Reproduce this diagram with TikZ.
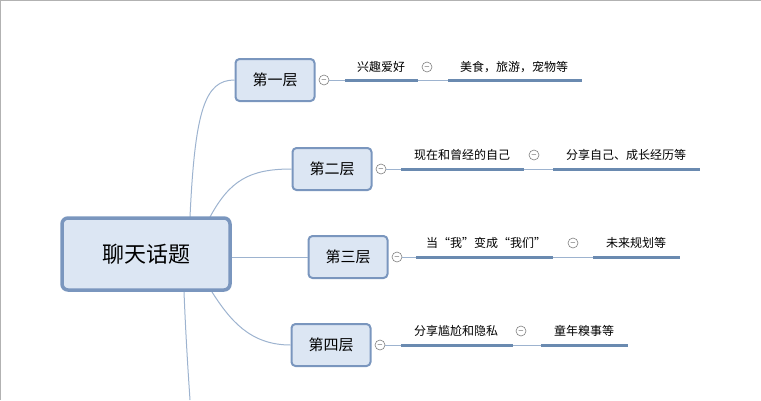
\documentclass[tikz,border=0pt]{standalone}
\usepackage{fontspec}
\newfontfamily\cjk{Noto Sans CJK SC}
\definecolor{bd}{HTML}{7A96BE}
\definecolor{fl}{HTML}{DCE6F3}
\definecolor{ul}{HTML}{6A8AB0}
\definecolor{cv}{HTML}{9DB3CF}
\tikzset{
 mainbox/.style={draw=bd,fill=fl,line width=3.5pt,rounded corners=6pt,minimum width=168pt,minimum height=72pt,font=\cjk\fontsize{22}{22}\selectfont},
 lvl/.style={draw=bd,fill=fl,line width=2pt,rounded corners=4pt,minimum width=79pt,minimum height=42pt,font=\cjk\fontsize{15}{15}\selectfont},
 lab/.style={font=\cjk\fontsize{12}{12}\selectfont,inner sep=1pt},
 tog/.style={circle,draw=gray,line width=0.6pt,minimum size=10pt,inner sep=0pt,font=\fontsize{7}{7}\selectfont,fill=white},
 uline/.style={ul,line width=3pt},
 thin/.style={cv,line width=0.8pt},
 curve/.style={cv,line width=1pt}
}
\begin{document}
\begin{tikzpicture}[x=1pt,y=-1pt]
\useasboundingbox (0,0) rectangle (761,400);
\draw[gray!60] (0.5,400) -- (0.5,0.5) -- (761,0.5);
% curves
\coordinate (m1) at (190,217);
\coordinate (m2) at (210,217);
\coordinate (m3) at (232,257);
\coordinate (m4) at (212,292);
\coordinate (m5) at (184,292);
\coordinate (e5) at (190,400);
\node[lvl] (l1) at (275,80) {第一层};
\node[lvl] (l2) at (332,169) {第二层};
\node[lvl] (l3) at (348,257) {第三层};
\node[lvl] (l4) at (331,345) {第四层};
\draw[curve] (m1) .. controls (195,110) and (205,80) .. (l1.west);
\draw[curve] (m2) .. controls (230,180) and (250,169) .. (l2.west);
\draw[curve] (m3) -- (l3.west);
\draw[curve] (m4) .. controls (230,320) and (250,345) .. (l4.west);
\draw[curve] (m5) .. controls (186,340) and (188,370) .. (e5);
\node[mainbox] (main) at (146,254) {聊天话题};
% level 1
\node[tog] (t1) at (324,80) {$-$};
\coordinate (a1) at (345,80); \coordinate (b1) at (418,80);
\coordinate (c1) at (448,80); \coordinate (d1) at (582,80);
\draw[thin] (t1) -- (a1); \draw[uline] (a1) -- (b1); \draw[thin] (b1) -- (c1); \draw[uline] (c1) -- (d1);
\node[lab] (x1) at (381,67) {兴趣爱好};
\node[tog] (s1) at (427,67) {$-$};
\node[lab] (y1) at (514,67) {美食，旅游，宠物等};
% level 2
\node[tog] (t2) at (381,169) {$-$};
\coordinate (a2) at (401,169); \coordinate (b2) at (524,169);
\coordinate (c2) at (553,169); \coordinate (d2) at (700,169);
\draw[thin] (t2) -- (a2); \draw[uline] (a2) -- (b2); \draw[thin] (b2) -- (c2); \draw[uline] (c2) -- (d2);
\node[lab] (x2) at (462,155) {现在和曾经的自己};
\node[tog] (s2) at (534,155) {$-$};
\node[lab] (y2) at (626,155) {分享自己、成长经历等};
% level 3
\node[tog] (t3) at (397,257) {$-$};
\coordinate (a3) at (416,257); \coordinate (b3) at (553,257);
\coordinate (c3) at (593,257); \coordinate (d3) at (680,257);
\draw[thin] (t3) -- (a3); \draw[uline] (a3) -- (b3); \draw[thin] (b3) -- (c3); \draw[uline] (c3) -- (d3);
\node[lab] (x3) at (486,243) {当“我”变成“我们”};
\node[tog] (s3) at (573,243) {$-$};
\node[lab] (y3) at (636,243) {未来规划等};
% level 4
\node[tog] (t4) at (380,345) {$-$};
\coordinate (a4) at (401,345); \coordinate (b4) at (513,345);
\coordinate (c4) at (541,345); \coordinate (d4) at (628,345);
\draw[thin] (t4) -- (a4); \draw[uline] (a4) -- (b4); \draw[thin] (b4) -- (c4); \draw[uline] (c4) -- (d4);
\node[lab] (x4) at (456,331) {分享尴尬和隐私};
\node[tog] (s4) at (521,331) {$-$};
\node[lab] (y4) at (584,331) {童年糗事等};
\end{tikzpicture}
\end{document}
